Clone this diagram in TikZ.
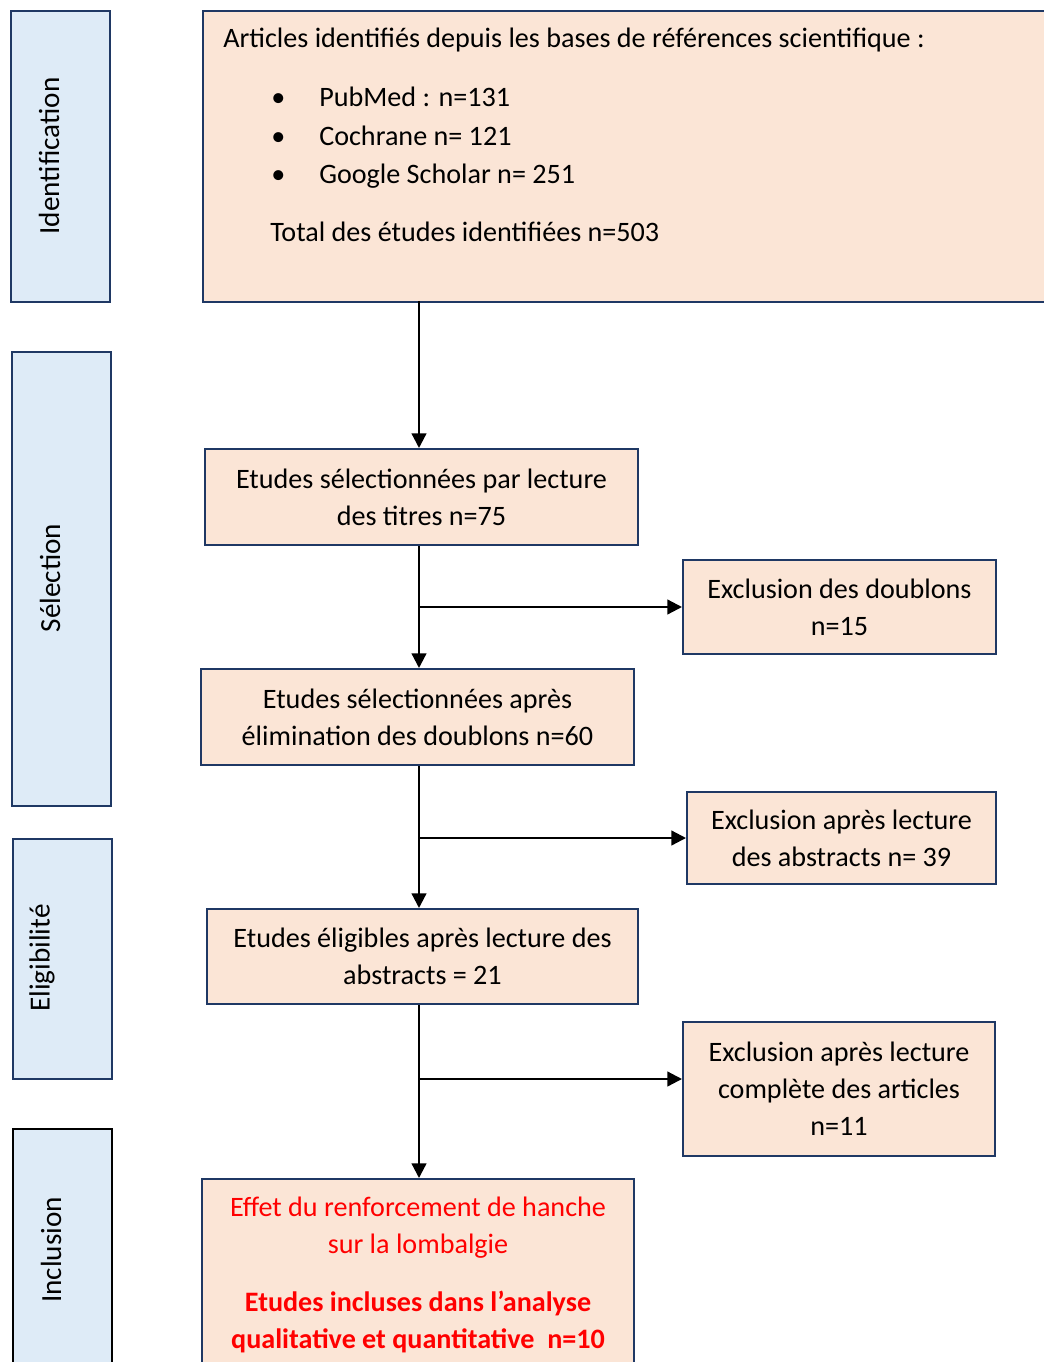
\documentclass[tikz,border=0pt]{standalone}
\usepackage{fontspec}
\setmainfont{Carlito}
\usetikzlibrary{arrows.meta}
\definecolor{peach}{HTML}{FBE5D6}
\definecolor{paleblue}{HTML}{DEEBF7}
\definecolor{navy}{HTML}{1F3864}
\newcommand{\flowfont}{\fontsize{21.1}{27.75}\selectfont}
\newcommand{\phasefont}{\fontsize{21.9}{27.75}\selectfont}

\begin{document}
\begin{tikzpicture}[x=0.75pt, y=-0.75pt,
    box/.style={draw=navy, line width=1.5pt, fill=peach, anchor=north west, align=center, inner sep=0pt, font=\flowfont},
    side/.style={draw=navy, line width=1.5pt, fill=paleblue, anchor=north west, minimum width=74.25pt, inner sep=0pt},
    lbl/.style={rotate=90, inner sep=0pt, font=\phasefont},
    txt/.style={anchor=base west, inner sep=0pt, font=\flowfont},
    arr/.style={-{Triangle[width=11pt,length=11pt]}, line width=1.7pt}
]
\useasboundingbox (0,0) rectangle (1044,1362);
\clip (0,0) rectangle (1044,1362);

% phases
\node[side, minimum height=218.25pt] (identside) at (10,10) {};
\node[side, minimum height=340.5pt] (selside) at (11,351) {};
\node[side, minimum height=180pt] (eligside) at (12,838) {};
\node[side, draw=black, minimum height=187.5pt] (inclside) at (12,1128) {};
\node[lbl] (identlbl) at (49,156) {Identification};
\node[lbl] (sellbl) at (50,578) {Sélection};
\node[lbl] (eliglbl) at (42,958) {Eligibilité};
\node[lbl] (incllbl) at (51,1250) {Inclusion};

% identification
\node[box, minimum width=637.5pt, minimum height=218.25pt] (articles) at (202,10) {};
\node[txt] (sources) at (223,48) {Articles identifiés depuis les bases de références scientifique :};
\node[txt] (pubmed) at (271,107) {\makebox[36pt][l]{\textbullet}PubMed : n=131};
\node[txt] (cochrane) at (271,146) {\makebox[36pt][l]{\textbullet}Cochrane n= 121};
\node[txt] (scholar) at (271,184) {\makebox[36pt][l]{\textbullet}Google Scholar n= 251};
\node[txt] (total) at (270,242) {Total des études identifiées n=503};

% selection, eligibilite, inclusion
\node[box, minimum width=324.75pt, minimum height=72pt] (titres) at (204,448) {Etudes sélectionnées par lecture\\des titres n=75};
\node[box, minimum width=234.75pt, minimum height=70.5pt] (doublons) at (682,559) {Exclusion des doublons\\n=15};
\node[box, minimum width=324.75pt, minimum height=72pt] (sansdoub) at (200,668) {Etudes sélectionnées après\\élimination des doublons n=60};
\node[box, minimum width=231.75pt, minimum height=69pt] (abstracts) at (686,791) {Exclusion après lecture\\des abstracts n= 39};
\node[box, minimum width=323.25pt, minimum height=71.25pt] (eligibles) at (206,908) {Etudes éligibles après lecture des\\abstracts = 21};
\node[box, minimum width=234pt, minimum height=100.5pt] (complete) at (682,1021) {Exclusion après lecture\\complète des articles\\n=11};
\node[box, minimum width=324pt, minimum height=144pt, text=red] (incluses) at (201,1178) {Effet du renforcement de hanche\\sur la lombalgie\\[16pt]\textbf{Etudes incluses dans l’analyse}\\\textbf{qualitative et quantitative\ \ n=10}};

\coordinate (spine) at (419,301);
\coordinate (branch) at ([yshift=7.5pt]complete.west);

\draw[arr] (spine) -- (spine |- titres.north);
\draw[arr] (spine |- titres.south) -- (spine |- sansdoub.north);
\draw[arr] (spine |- doublons.west) -- (doublons.west);
\draw[arr] (spine |- sansdoub.south) -- (spine |- eligibles.north);
\draw[arr] (spine |- abstracts.west) -- (abstracts.west);
\draw[arr] (spine |- eligibles.south) -- (spine |- incluses.north);
\draw[arr] (spine |- branch) -- (branch);
\end{tikzpicture}
\end{document}
